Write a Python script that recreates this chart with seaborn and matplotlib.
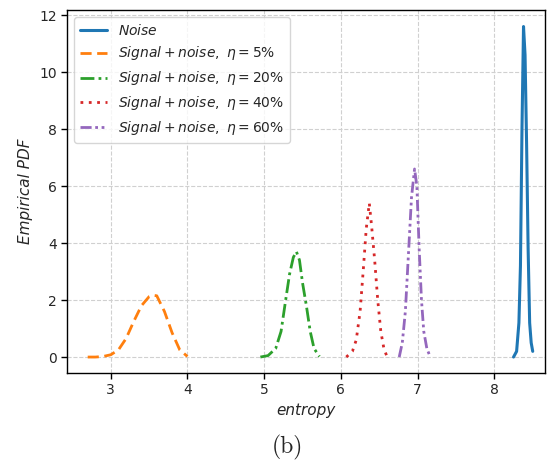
import numpy as np
import pandas as pd
import seaborn as sns
import matplotlib
matplotlib.use("Agg")
import matplotlib.pyplot as plt

# ---- data ----
noise_x = [8.25, 8.29, 8.32, 8.34, 8.36, 8.38, 8.40, 8.42, 8.44, 8.46, 8.48, 8.50]
noise_y = [0.0, 0.2, 1.2, 3.2, 8.0, 11.6, 10.6, 7.5, 3.8, 1.2, 0.5, 0.2]

eta5_x = [2.70, 2.80, 2.90, 3.00, 3.10, 3.20, 3.30, 3.40, 3.50, 3.55, 3.60, 3.70, 3.80, 3.90, 4.00]
eta5_y = [0.0, 0.0, 0.02, 0.08, 0.25, 0.65, 1.25, 1.80, 2.12, 2.17, 2.15, 1.60, 0.85, 0.25, 0.02]

eta20_x = [4.95, 5.05, 5.15, 5.22, 5.28, 5.33, 5.38, 5.42, 5.46, 5.50, 5.55, 5.60, 5.65, 5.72]
eta20_y = [0.0, 0.05, 0.3, 0.9, 2.0, 2.9, 3.5, 3.7, 3.4, 2.6, 1.8, 0.9, 0.3, 0.02]

eta40_x = [6.07, 6.15, 6.20, 6.25, 6.29, 6.33, 6.37, 6.40, 6.44, 6.48, 6.52, 6.56, 6.60]
eta40_y = [0.0, 0.2, 0.6, 1.6, 3.0, 4.5, 5.4, 4.6, 3.4, 2.0, 0.9, 0.3, 0.02]

eta60_x = [6.76, 6.80, 6.84, 6.88, 6.92, 6.96, 6.99, 7.02, 7.05, 7.08, 7.12, 7.15]
eta60_y = [0.0, 0.5, 1.6, 3.6, 5.6, 6.6, 6.0, 3.8, 2.0, 0.9, 0.3, 0.1]

labels = [r"$Noise$",
          r"$Signal + noise,\ \eta = 5\%$",
          r"$Signal + noise,\ \eta = 20\%$",
          r"$Signal + noise,\ \eta = 40\%$",
          r"$Signal + noise,\ \eta = 60\%$"]
xticks = [3, 4, 5, 6, 7, 8]
yticks = [0, 2, 4, 6, 8, 10, 12]

series = [(noise_x, noise_y), (eta5_x, eta5_y), (eta20_x, eta20_y),
          (eta40_x, eta40_y), (eta60_x, eta60_y)]
colors = ["#1f77b4", "#ff7f0e", "#2ca02c", "#d62728", "#9467bd"]
styles = [(None, 2.2), ((4, 2), 2.0), ((5, 1.5, 1, 1.5), 2.0), ((1, 2), 2.0),
          ((4, 1.3, 1, 1.3, 1, 1.3), 2.0)]

sns.set_style("white")
plt.rcParams["font.family"] = ["DejaVu Sans"]

fig = plt.figure(figsize=(5.49, 4.66), dpi=100)
ax = fig.add_axes([67 / 549, 1 - 373 / 466, (545 - 67) / 549, (373 - 10) / 466])

for (xs, ys), lab, col, (dash, lw) in zip(series, labels, colors, styles):
    df = pd.DataFrame({"x": xs, "y": ys})
    line = sns.lineplot(data=df, x="x", y="y", ax=ax, color=col, lw=lw,
                        label=lab, sort=False, estimator=None)
    if dash is not None:
        ax.lines[-1].set_dashes(dash)

ax.set_xlim(2.43, 8.66)
ax.set_ylim(-0.56, 12.18)
ax.set_xticks(xticks)
ax.set_yticks(yticks)
ax.tick_params(axis="both", labelsize=10, direction="out", length=4, width=1, color="black",
               left=True, bottom=True)
ax.grid(True, linestyle="--", color="#d0d0d0", linewidth=0.8)
for s in ax.spines.values():
    s.set_color("black")
    s.set_linewidth(1.0)
ax.set_xlabel("entropy", fontsize=11, style="italic")
ax.set_ylabel("Empirical PDF", fontsize=11, style="italic")

leg = ax.legend(loc="upper left", fontsize=10, frameon=True, handlelength=2.0)
leg.get_frame().set_edgecolor("#cccccc")
for lh, (dash, lw) in zip(leg.get_lines(), styles):
    if dash is not None:
        lh.set_dashes(dash)

fig.text(0.523, 0.04, "(b)", fontfamily="cmr10", fontsize=17, ha="center", va="center")

fig.savefig("out.png", dpi=100)
